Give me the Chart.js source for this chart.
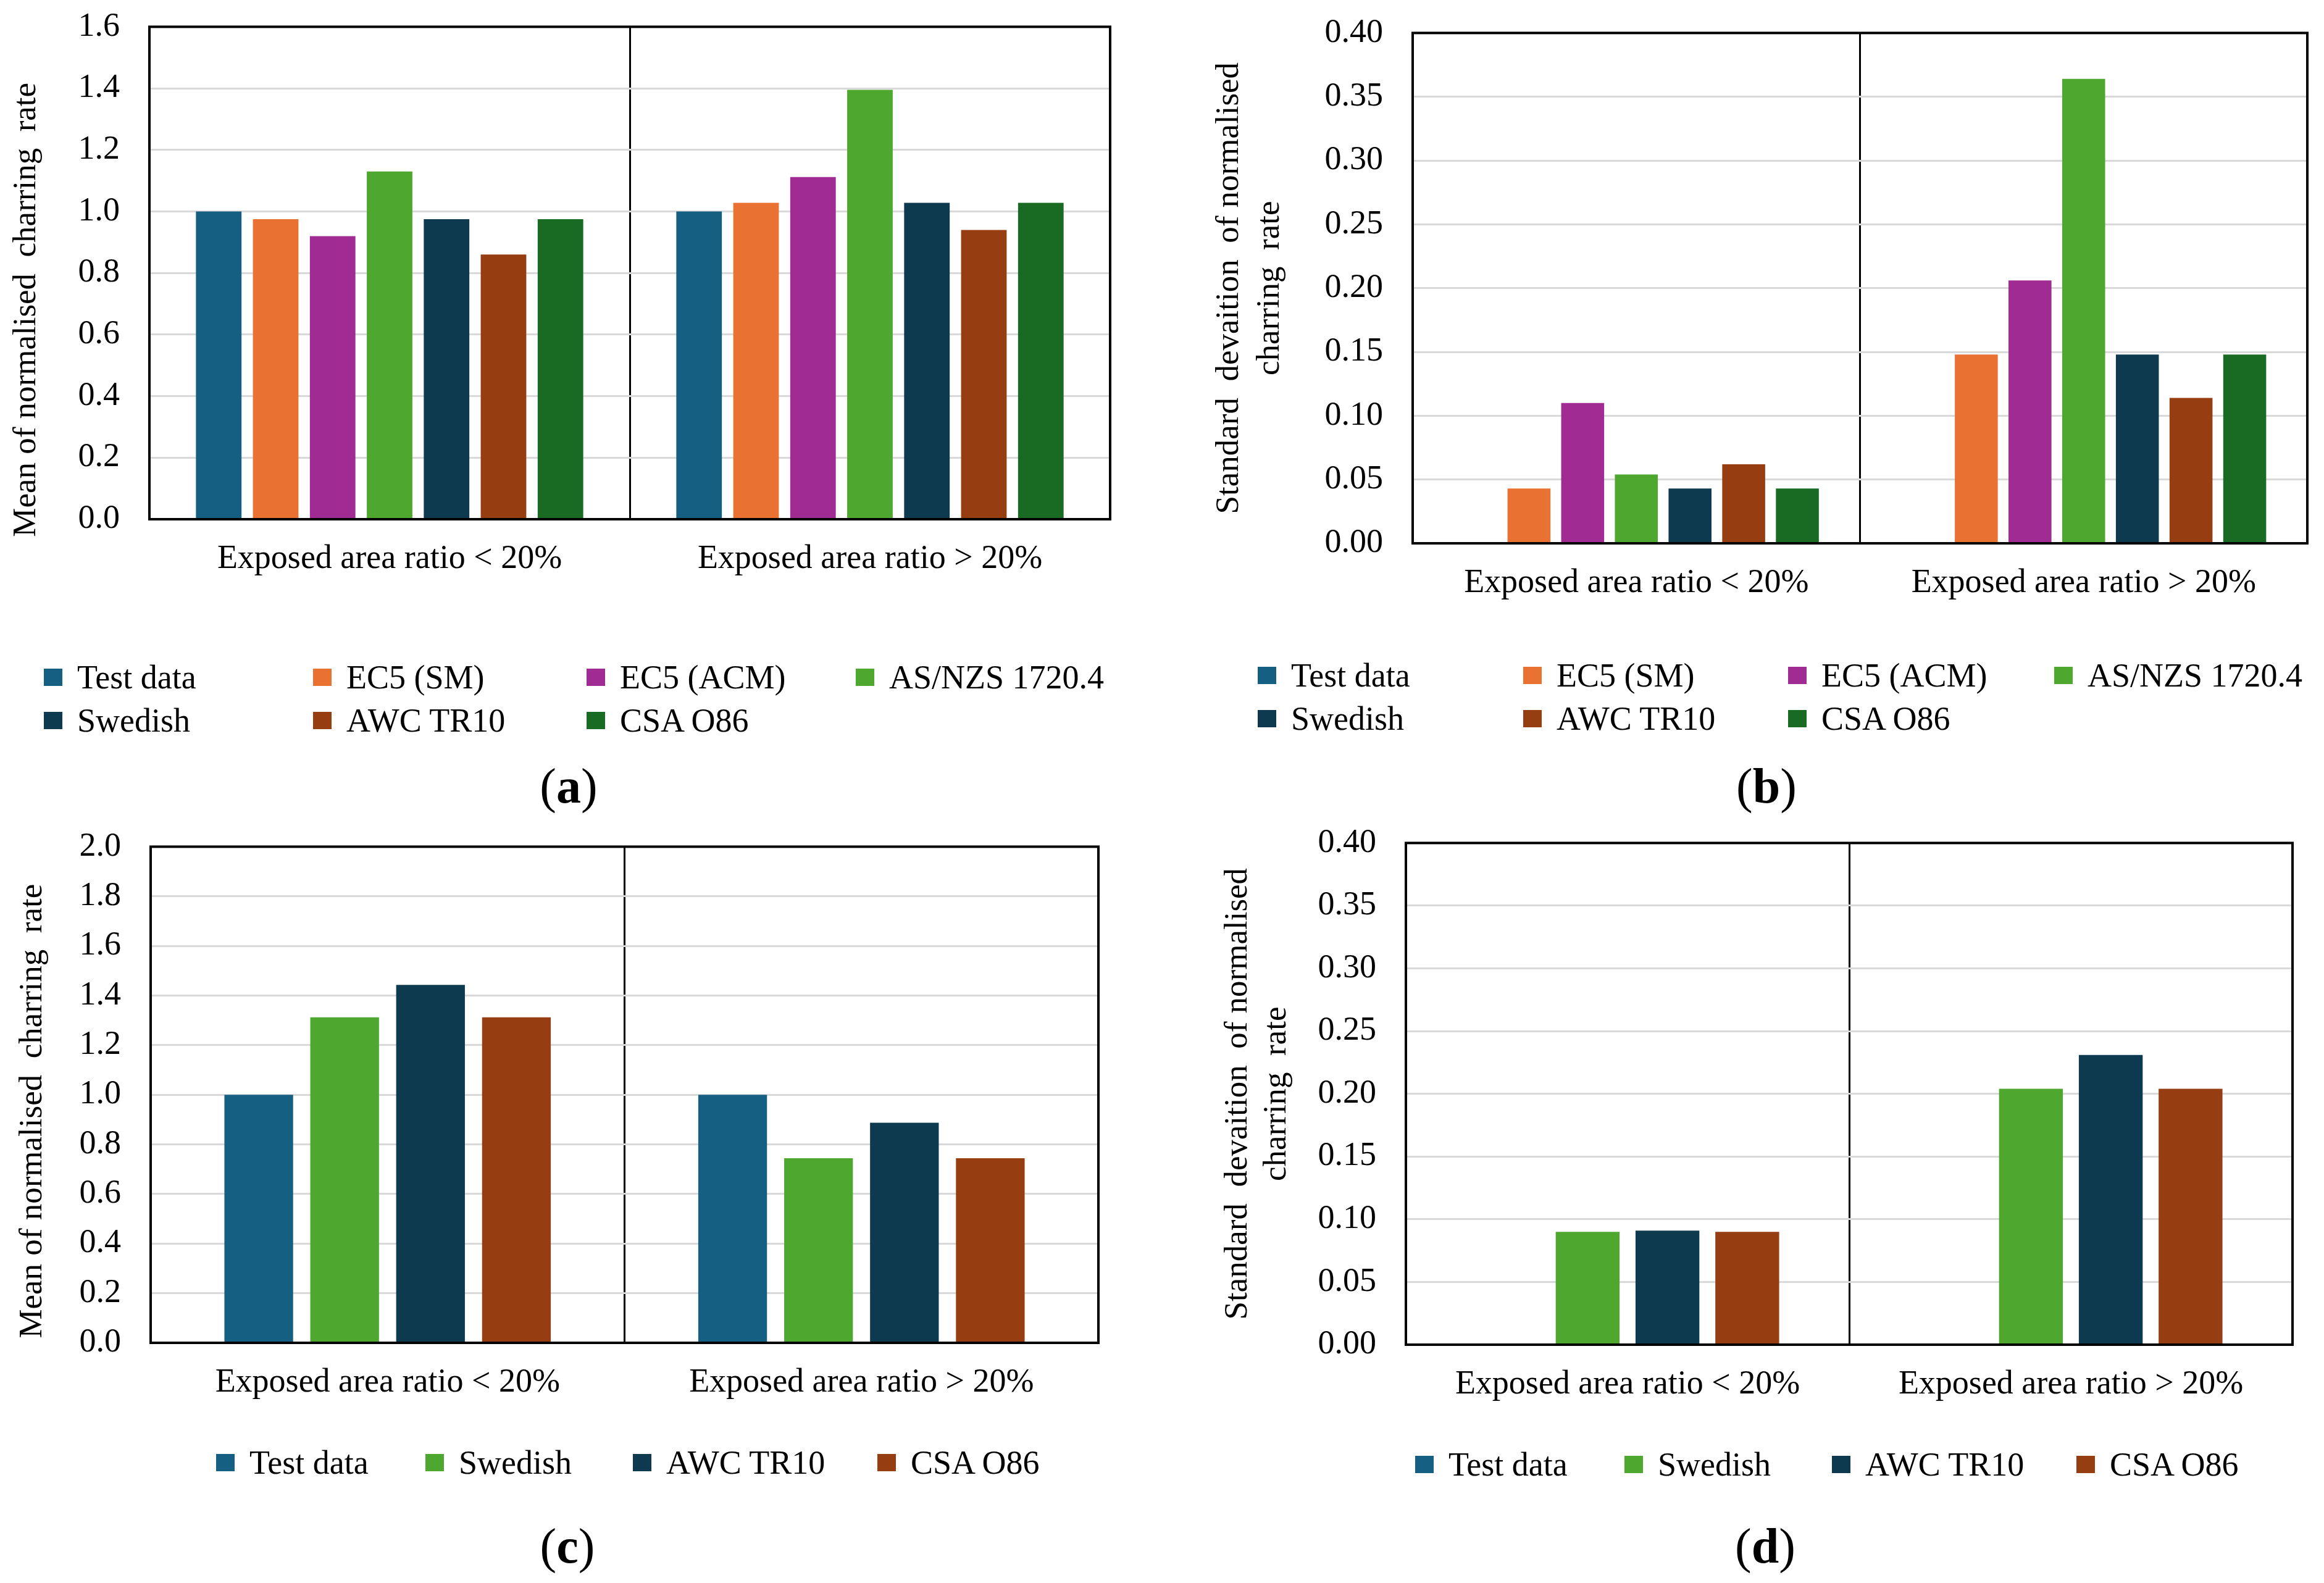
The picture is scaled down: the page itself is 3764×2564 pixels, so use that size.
<!DOCTYPE html>
<html>
<head>
<meta charset="utf-8">
<script src="https://cdn.jsdelivr.net/npm/chart.js@4.4.1/dist/chart.umd.min.js"></script>
<style>
  html, body { margin: 0; padding: 0; background: #fff; }
  body { width: 3764px; height: 2564px; position: relative; overflow: hidden;
         font-family: "Liberation Serif", "Times New Roman", serif; color: #000; }
  .panel { position: absolute; }
  .legend-item { position: absolute; display: flex; align-items: center; font-size: 54px;
                 white-space: nowrap; transform: translateY(-50%); }
  .legend-item .sq { width: 30px; height: 28px; margin-right: 24px; }
  .caption { position: absolute; font-size: 80px; transform: translate(-50%, -50%); }
</style>
</head>
<body>
<canvas id="chart-a" class="panel"></canvas>
<canvas id="chart-b" class="panel"></canvas>
<canvas id="chart-c" class="panel"></canvas>
<canvas id="chart-d" class="panel"></canvas>
<div id="legends"></div>
<div class="caption" style="left:921px; top:1273px">(<b>a</b>)</div>
<div class="caption" style="left:2861px; top:1273px">(<b>b</b>)</div>
<div class="caption" style="left:919px; top:2504px">(<b>c</b>)</div>
<div class="caption" style="left:2859px; top:2504px">(<b>d</b>)</div>

<script>
// Data

const GROUPS = ['Exposed area ratio < 20%', 'Exposed area ratio > 20%'];

// panels (a) and (b): all seven methods
const methodsAll = ['Test data', 'EC5 (SM)', 'EC5 (ACM)', 'AS/NZS 1720.4', 'Swedish', 'AWC TR10', 'CSA O86'];
const colorsAll = ['#156082', '#E97132', '#A02B93', '#4EA72E', '#0E3A4F', '#963D12', '#196B24'];
const meanLowAll = [1.00, 0.975, 0.92, 1.13, 0.975, 0.86, 0.975];
const meanHighAll = [1.00, 1.028, 1.112, 1.395, 1.028, 0.94, 1.028];
const sdLowAll = [0, 0.043, 0.110, 0.054, 0.043, 0.062, 0.043];
const sdHighAll = [0, 0.148, 0.206, 0.364, 0.148, 0.114, 0.148];

// panels (c) and (d): subset of methods (own colour order)
const methodsSub = ['Test data', 'Swedish', 'AWC TR10', 'CSA O86'];
const colorsSub = ['#156082', '#4EA72E', '#0E3A4F', '#963D12'];
const meanLowSub = [1.00, 1.312, 1.443, 1.312];
const meanHighSub = [1.00, 0.744, 0.887, 0.744];
const sdLowSub = [0, 0.090, 0.091, 0.090];
const sdHighSub = [0, 0.204, 0.231, 0.204];

const FONT = '"Liberation Serif", "Times New Roman", serif';
Chart.defaults.font.family = FONT;
Chart.defaults.color = '#000';

const TICK_PAD = 48;
const TOP_OVERHANG = 54 * 1.2 / 2 + TICK_PAD; // y-scale pads its top by half a label + tick padding

// black frame round the plot area
const framePlugin = {
  id: 'frame',
  afterDatasetsDraw(chart) {
    const { ctx, chartArea: a } = chart;
    ctx.save();
    ctx.strokeStyle = '#000';
    ctx.lineWidth = 4;
    ctx.strokeRect(a.left, a.top, a.right - a.left, a.bottom - a.top);
    ctx.restore();
  }
};

// plot = target chart area in page pixels; canvas is laid out round it
function makeChart(id, plot, canvasX, methods, colors, low, high, yOpts) {
  const x = canvasX;
  const y = Math.round(plot.top - TOP_OVERHANG);
  const w = plot.right + 20 - x;
  const h = plot.bottom + 100 - y;
  const canvas = document.getElementById(id);
  canvas.width = w;
  canvas.height = h;
  canvas.style.left = x + 'px';
  canvas.style.top = y + 'px';
  canvas.style.width = w + 'px';
  canvas.style.height = h + 'px';

  return new Chart(canvas, {
    type: 'bar',
    data: {
      labels: GROUPS,
      datasets: methods.map((m, i) => ({
        label: m,
        data: [low[i], high[i]],
        backgroundColor: colors[i],
        borderWidth: 0,
        categoryPercentage: plot.catPct,
        barPercentage: 0.8
      }))
    },
    options: {
      responsive: false,
      animation: false,
      devicePixelRatio: 1,
      layout: { padding: { top: 0, right: 20, left: 0, bottom: 0 } },
      plugins: { legend: { display: false }, tooltip: { enabled: false } },
      scales: {
        x: {
          afterFit: s => { s.height = 100; },
          grid: { offset: true, color: '#000', lineWidth: 3, drawTicks: false },
          border: { display: false },
          ticks: { font: { size: 54 }, padding: 32, maxRotation: 0 }
        },
        y: {
          min: 0,
          max: yOpts.max,
          afterFit: s => { s.width = plot.left - x; },
          grid: { color: '#D9D9D9', lineWidth: 3, drawTicks: false },
          border: { display: false },
          ticks: {
            stepSize: yOpts.step,
            font: { size: 54 },
            padding: TICK_PAD,
            callback: v => v.toFixed(yOpts.digits)
          },
          title: {
            display: true,
            text: yOpts.title,
            font: { size: 53, lineHeight: yOpts.lineHeight || 1.2 },
            padding: { top: yOpts.titlePad, bottom: 0 }
          }
        }
      }
    },
    plugins: [framePlugin]
  });
}

const NB = '\u00a0';

makeChart('chart-a', { left: 242, right: 1798, top: 43, bottom: 841, catPct: 0.83 }, 0,
  methodsAll, colorsAll, meanLowAll, meanHighAll,
  { max: 1.6, step: 0.2, digits: 1, titlePad: 11,
    title: 'Mean of normalised  charring  rate' + NB.repeat(9) });

makeChart('chart-b', { left: 2288, right: 3737, top: 53, bottom: 880, catPct: 0.84 }, 1900,
  methodsAll, colorsAll, sdLowAll, sdHighAll,
  { max: 0.4, step: 0.05, digits: 2, titlePad: 58, lineHeight: 1.25,
    title: ['Standard  devaition  of normalised', 'charring  rate'] });

makeChart('chart-c', { left: 244, right: 1779, top: 1371, bottom: 2175, catPct: 0.725 }, 0,
  methodsSub, colorsSub, meanLowSub, meanHighSub,
  { max: 2.0, step: 0.2, digits: 1, titlePad: 21,
    title: 'Mean of normalised  charring  rate' + NB.repeat(4) });

makeChart('chart-d', { left: 2277, right: 3713, top: 1365, bottom: 2178, catPct: 0.72 }, 1900,
  methodsSub, colorsSub, sdLowSub, sdHighSub,
  { max: 0.4, step: 0.05, digits: 2, titlePad: 73, lineHeight: 1.2,
    title: ['Standard  devaition  of normalised', 'charring  rate'] });

// HTML legends placed under each panel
const legendHost = document.getElementById('legends');
function addLegend(methods, colors, lefts, rows, perRow) {
  methods.forEach((m, i) => {
    const item = document.createElement('div');
    item.className = 'legend-item';
    item.style.left = lefts[i % perRow] + 'px';
    item.style.top = rows[Math.floor(i / perRow)] + 'px';
    item.innerHTML = `<span class="sq" style="background:${colors[i]}"></span><span>${m}</span>`;
    legendHost.appendChild(item);
  });
}

addLegend(methodsAll, colorsAll, [71, 507, 950, 1386], [1097, 1167], 4);
addLegend(methodsAll, colorsAll, [2037, 2467, 2896, 3327], [1094, 1164], 4);
addLegend(methodsSub, colorsSub, [350, 689, 1025, 1421], [2369], 4);
addLegend(methodsSub, colorsSub, [2292, 2631, 2967, 3363], [2372], 4);
</script>
</body>
</html>
